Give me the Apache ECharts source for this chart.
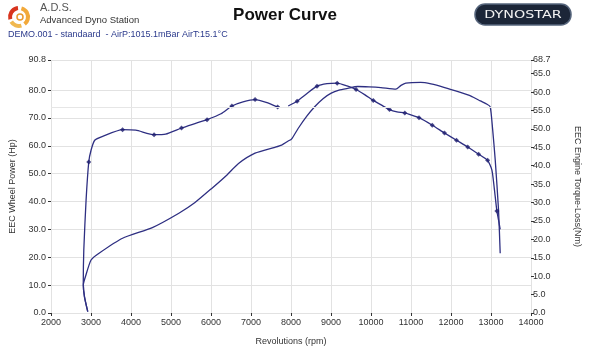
<!DOCTYPE html>
<html>
<head>
<meta charset="utf-8">
<script src="https://cdn.jsdelivr.net/npm/echarts@6/dist/echarts.min.js"></script>
<style>
  html, body { margin: 0; padding: 0; background: #fff; }
  #chart { width: 590px; height: 353px; }
</style>
</head>
<body>
<div id="chart"></div>
<script>
// wheel power curve (left axis), null = gap in the trace
const powerRpm = [2919, 2837, 2807, 2820, 2877, 2944, 3001, 3093, 3292, 3789, 4120, 4576, 4865, 5263, 5600, 5901, 6250, 6522, 6800, 7101, 7400, 7665, 7720, null,
  7930, 8153, 8400, 8650, 8900, 9155, 9400, 9627, 9850, 10057, 10263, 10463, 10650, 10845, 11020, 11200, 11532, 11838, 12137, 12418, 12691, 12915, 13023, 13080, 13147, 13200, 13230]
const powerHp = [0.5, 5.8, 10.8, 22.6, 40.5, 54.2, 58.4, 62.0, 63.4, 65.8, 65.6, 64.0, 64.2, 66.4, 68.0, 69.4, 71.5, 74.3, 75.8, 76.6, 75.5, 73.9, 73.8, null,
  74.3, 76.0, 78.8, 81.4, 82.3, 82.5, 81.5, 80.2, 78.3, 76.3, 74.6, 73.0, 72.2, 71.8, 71.0, 70.1, 67.4, 64.6, 62.0, 59.6, 57.0, 54.8, 51.3, 45.0, 36.6, 32.5, 30.0]

// measured points shown as markers on the power curve
const dotRpm = [2944, 3789, 4576, 5263, 5901, 6522, 7101, 7665, 8153, 8650, 9155, 9627, 10057, 10463, 10845, 11200, 11532, 11838, 12137, 12418, 12691, 12915, 13147]
const dotHp = [54.2, 65.8, 64.0, 66.4, 69.4, 74.3, 76.6, 73.9, 76.0, 81.4, 82.5, 80.2, 76.3, 73.0, 71.8, 70.1, 67.4, 64.6, 62.0, 59.6, 57.0, 54.8, 36.6]

// engine torque-loss curve (right axis)
const torqueRpm = [2919, 2837, 2807, 2862, 3001, 3210, 3789, 4534, 5197, 5600, 6025, 6400, 6688, 7101, 7598, 7764, 7930, 8012, 8178, 8400, 8592, 8800,
  9006, 9200, 9421, 9669, 9950, 10248, 10621, 10750, 10870, 11242, 11500, 11821, 12236, 12500, 12733, 12900, 12981, 13040, 13106, 13188, 13230]
const torqueNm = [0.4, 4.4, 7.6, 9.9, 14.4, 16.3, 20.3, 23.2, 27.1, 30.0, 33.9, 37.5, 40.6, 43.4, 45.0, 45.6, 46.7, 47.2, 50.1, 53.5, 56.0, 58.2,
  59.7, 60.5, 61.0, 61.5, 61.4, 61.2, 60.8, 61.8, 62.4, 62.6, 62.2, 61.3, 59.9, 58.9, 57.6, 56.7, 56.0, 50.0, 41.5, 28.0, 16.2]

const powerTicks = [0, 10, 20, 30, 40, 50, 60, 70, 80, 90.8]
const torqueTicks = [0, 5, 10, 15, 20, 25, 30, 35, 40, 45, 50, 55, 60, 65, 68.7]

const font = 'Liberation Sans, Arial, sans-serif'
const lineColor = '#2e2f82'
const gridColor = '#e2e2e2'

const chart = echarts.init(document.getElementById('chart'))

const pair = (xs, ys) => xs.map((x, i) => (x === null ? [null, null] : [x, ys[i]]))

chart.setOption({
  animation: false,
  backgroundColor: '#fff',
  textStyle: { fontFamily: font },
  graphic: [
    // A.D.S. logo
    { type: 'arc', shape: { cx: 19, cy: 17, r: 9, startAngle: -1.3, endAngle: 0.9 }, style: { stroke: '#f2a93a', lineWidth: 4, fill: null } },
    { type: 'arc', shape: { cx: 19, cy: 17, r: 9, startAngle: 1.3, endAngle: 2.6 }, style: { stroke: '#f0b850', lineWidth: 4, fill: null } },
    { type: 'arc', shape: { cx: 19, cy: 17, r: 9, startAngle: 2.9, endAngle: 4.6 }, style: { stroke: '#d8341e', lineWidth: 4, fill: null } },
    { type: 'circle', shape: { cx: 20, cy: 17, r: 3 }, style: { stroke: '#e89a30', lineWidth: 1.5, fill: '#fff' } },
    { type: 'text', left: 40, top: 2, style: { text: 'A.D.S.', font: '11px ' + font, fill: '#555' } },
    { type: 'text', left: 40, top: 15, style: { text: 'Advanced Dyno Station', font: '9.5px ' + font, fill: '#333' } },
    { type: 'text', left: 8, top: 30, style: { text: 'DEMO.001 - standaard  - AirP:1015.1mBar AirT:15.1°C', font: '9px ' + font, fill: '#2b3a8c' } },
    // title
    { type: 'text', x: 285, y: 15, style: { text: 'Power Curve', font: 'bold 17px ' + font, fill: '#111', align: 'center', verticalAlign: 'middle' } },
    // Dynostar badge
    { type: 'rect', shape: { x: 475, y: 4, width: 96, height: 21, r: 10 }, style: { fill: '#1c2638', stroke: '#56657c', lineWidth: 1.5 } },
    { type: 'text', x: 523, y: 15, scaleX: 1.3, style: { text: 'DYNOSTAR', font: '11px DejaVu Sans, sans-serif', fill: '#f2f2f2', align: 'center', verticalAlign: 'middle' } }
  ],
  grid: { left: 48, right: 59, top: 60, bottom: 40, containLabel: false },
  xAxis: {
    type: 'value',
    min: 2000,
    max: 14000,
    interval: 1000,
    name: 'Revolutions (rpm)',
    nameLocation: 'middle',
    nameGap: 24,
    nameTextStyle: { fontSize: 9, color: '#333' },
    axisLine: { show: false },
    axisTick: { show: true, length: 3, lineStyle: { color: '#333' } },
    axisLabel: { fontSize: 9, color: '#333', margin: 5, formatter: v => String(v) },
    splitLine: { show: true, lineStyle: { color: gridColor, width: 1 } }
  },
  yAxis: [
    {
      type: 'value',
      min: 0,
      max: 90.8,
      position: 'left',
      name: 'EEC Wheel Power (Hp)',
      nameLocation: 'middle',
      nameRotate: 90,
      nameGap: 34,
      nameTextStyle: { fontSize: 9, color: '#333' },
      axisLine: { show: false },
      axisTick: { show: true, length: 3, customValues: powerTicks, lineStyle: { color: '#333' } },
      axisLabel: { fontSize: 9, color: '#333', margin: 5, customValues: powerTicks, formatter: v => v.toFixed(1) },
      splitLine: { show: true, lineStyle: { color: gridColor, width: 1 } }
    },
    {
      type: 'value',
      min: 0,
      max: 68.7,
      position: 'right',
      name: 'EEC Engine Torque-Loss(Nm)',
      nameLocation: 'middle',
      nameRotate: -90,
      nameGap: 42,
      nameTextStyle: { fontSize: 9, color: '#333' },
      axisLine: { show: false },
      axisTick: { show: true, length: 3, customValues: torqueTicks, lineStyle: { color: '#333' } },
      axisLabel: { fontSize: 9, color: '#333', margin: 2, customValues: torqueTicks, formatter: v => v.toFixed(1) },
      splitLine: { show: false }
    }
  ],
  series: [
    {
      name: 'Power',
      type: 'line',
      yAxisIndex: 0,
      data: pair(powerRpm, powerHp),
      showSymbol: false,
      connectNulls: false,
      smooth: 0.2,
      lineStyle: { color: lineColor, width: 1.3 },
      markLine: {
        silent: true,
        symbol: 'none',
        label: { show: false },
        lineStyle: { color: '#e6e6e6', type: 'solid', width: 1 },
        data: [{ yAxis: 73.7 }]
      },
      z: 3
    },
    {
      name: 'Power points',
      type: 'scatter',
      yAxisIndex: 0,
      data: pair(dotRpm, dotHp),
      symbol: 'diamond',
      symbolSize: 5,
      itemStyle: { color: '#1d1d6e' },
      z: 4
    },
    {
      name: 'Torque-Loss',
      type: 'line',
      yAxisIndex: 1,
      data: pair(torqueRpm, torqueNm),
      showSymbol: false,
      smooth: 0.2,
      lineStyle: { color: lineColor, width: 1.3 },
      z: 3
    }
  ]
})
</script>
</body>
</html>
